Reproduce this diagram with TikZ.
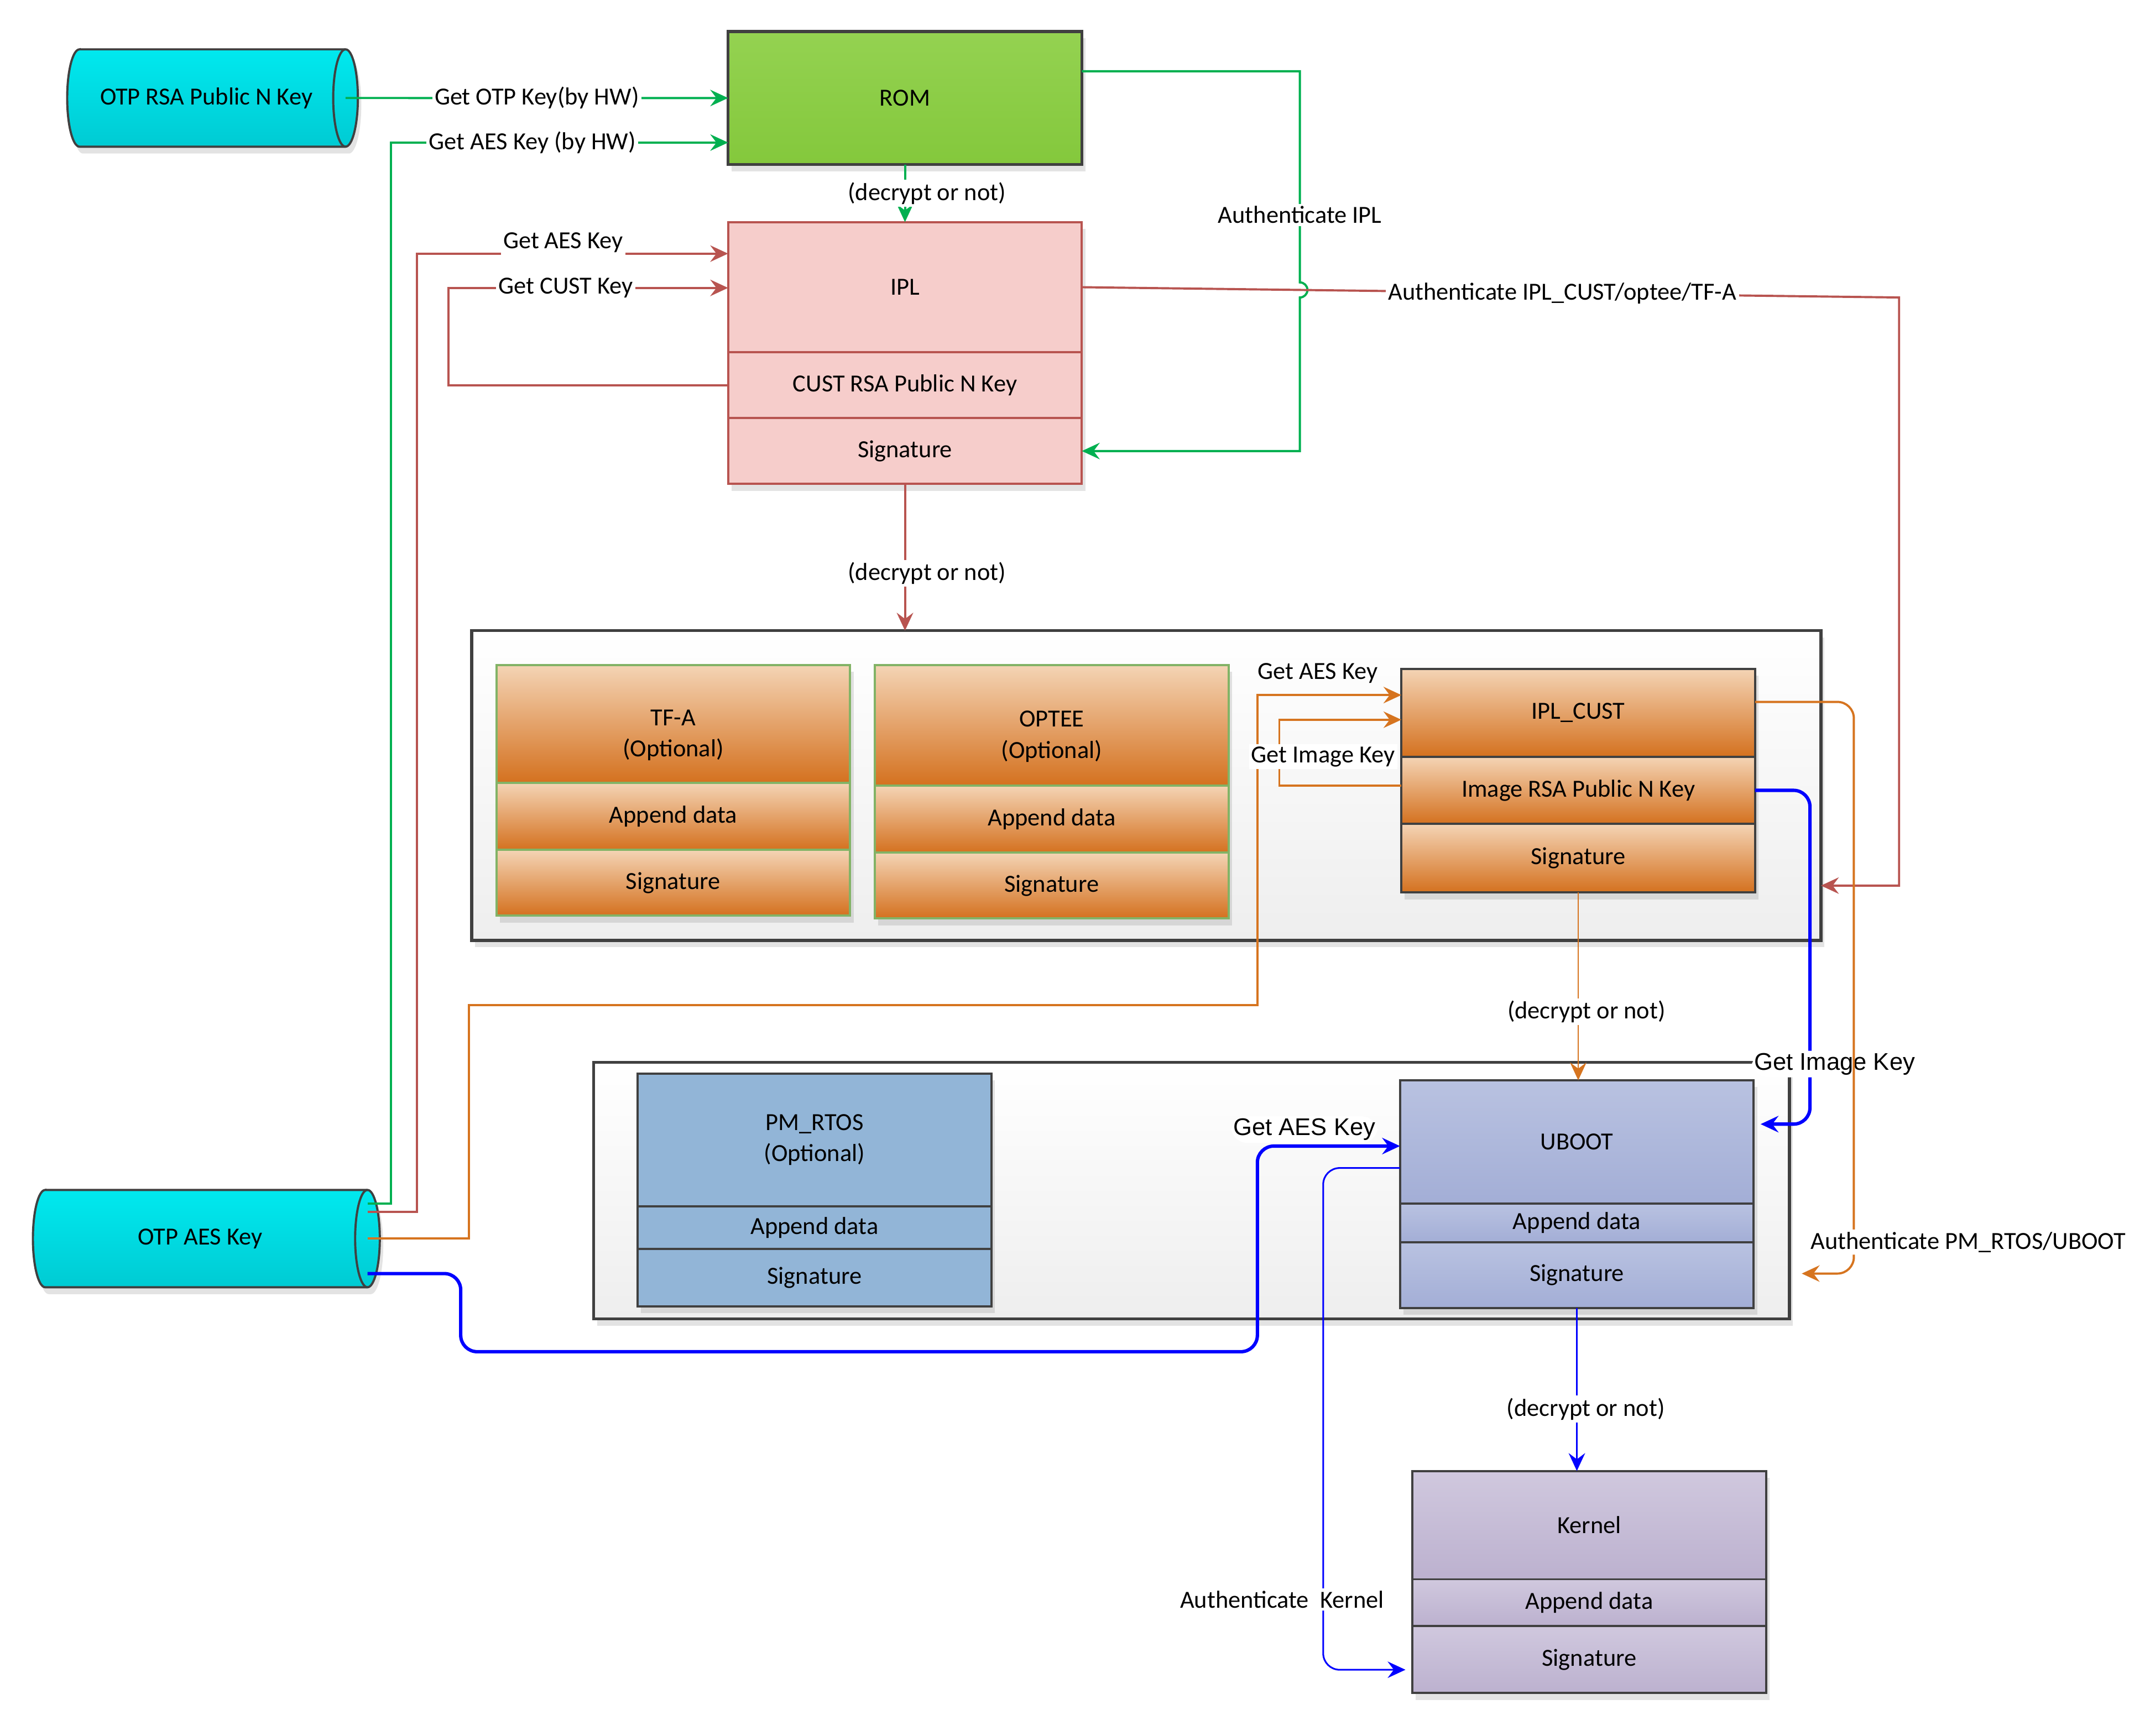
\documentclass[tikz,border=0pt]{standalone}
\usepackage{fontspec}
\setmainfont{Carlito}
\newfontfamily\arialfont{Liberation Sans}
\usetikzlibrary{arrows.meta,shadows}

\definecolor{boxline}{HTML}{404040}
\definecolor{gcol}{HTML}{00B050}
\definecolor{rcol}{HTML}{B85450}
\definecolor{ocol}{HTML}{D6741F}
\definecolor{bcol}{HTML}{0000FF}
\definecolor{cyantop}{HTML}{00E9EF}
\definecolor{cyanbot}{HTML}{00CBD3}
\definecolor{romtop}{HTML}{94D251}
\definecolor{rombot}{HTML}{84C83C}
\definecolor{iplfill}{HTML}{F6CDCB}
\definecolor{orgtop}{HTML}{F4D4B5}
\definecolor{orgbot}{HTML}{D4711F}
\definecolor{tfaline}{HTML}{82B366}
\definecolor{rtosfill}{HTML}{92B5D7}
\definecolor{uboottop}{HTML}{B9C2E1}
\definecolor{ubootbot}{HTML}{A3AED6}
\definecolor{kertop}{HTML}{D0C8DE}
\definecolor{kerbot}{HTML}{BCB1CF}
\definecolor{contbot}{HTML}{EEEEEE}

\begin{document}
\begin{tikzpicture}[x=0.2mm, y=-0.2mm,
    every node/.style={font=\fontsize{10.2}{13}\selectfont},
    >={Stealth[length=2.6mm, width=2.4mm, inset=0.9mm]},
    soft/.style={drop shadow={shadow xshift=0.5mm, shadow yshift=-1mm, opacity=0.22}},
    part/.style={draw=boxline, line width=0.9pt, minimum width=51.6mm, inner sep=0pt,
      outer sep=0pt, anchor=north west, align=center, soft},
    orgpart/.style={part, top color=orgtop, bottom color=orgbot},
    tfapart/.style={orgpart, draw=tfaline},
    iplpart/.style={part, draw=rcol, fill=iplfill},
    rtospart/.style={part, fill=rtosfill},
    ubootpart/.style={part, top color=uboottop, bottom color=ubootbot},
    kernelpart/.style={part, top color=kertop, bottom color=kerbot},
    group/.style={draw=boxline, line width=1.2pt, top color=white, bottom color=contbot,
      inner sep=0pt, outer sep=0pt, anchor=north west, soft},
    otpbody/.style={draw=boxline, line width=0.9pt, top color=cyantop, bottom color=cyanbot, soft},
    otpcap/.style={draw=boxline, line width=0.9pt},
    otpkey/.style={minimum height=14.2mm, inner sep=0pt, outer sep=0pt},
    lbl/.style={fill=white, inner sep=1pt},
    alabel/.style={lbl, font=\arialfont\fontsize{10}{12}\selectfont},
    gline/.style={draw=gcol, line width=0.9pt},
    rline/.style={draw=rcol, line width=0.9pt},
    oline/.style={draw=ocol, line width=0.9pt},
    othin/.style={draw=ocol, line width=0.6pt},
    bthick/.style={draw=bcol, line width=1.4pt},
    bthin/.style={draw=bcol, line width=0.7pt}]
    \fill[white] (0,0) rectangle (1568,1266);
    \useasboundingbox (0,0) rectangle (1568,1266);

    % OTP keys
    \path[otpbody] (58,36) -- (252,36) arc[start angle=90, end angle=-90, x radius=1.8mm, y radius=7.1mm]
        -- (58,107) arc[start angle=270, end angle=90, x radius=1.8mm, y radius=7.1mm] -- cycle;
    \draw[otpcap] (252,36) arc[start angle=90, end angle=270, x radius=1.8mm, y radius=7.1mm];
    \node[otpkey, minimum width=40.6mm] (otprsa) at (150.5,71.5) {OTP RSA Public N Key};
    \path[otpbody] (33,868) -- (268,868) arc[start angle=90, end angle=-90, x radius=1.8mm, y radius=7.1mm]
        -- (33,939) arc[start angle=270, end angle=90, x radius=1.8mm, y radius=7.1mm] -- cycle;
    \draw[otpcap] (268,868) arc[start angle=90, end angle=270, x radius=1.8mm, y radius=7.1mm];
    \node[otpkey, minimum width=48.8mm] (otpaes) at (146,903.5) {OTP AES Key};

    % ROM and IPL
    \node[part, line width=1.2pt, top color=romtop, bottom color=rombot, minimum height=19.4mm] (rom) at (531,23) {ROM};
    \node[iplpart, minimum height=19mm] (ipl) at (531,162) {IPL};
    \node[iplpart, minimum height=9.6mm] (custkey) at (ipl.south west) {CUST RSA Public N Key};
    \node[iplpart, minimum height=9.6mm] (iplsig) at (custkey.south west) {Signature};

    % TF-A, OPTEE, IPL_CUST
    \node[group, minimum width=196.8mm, minimum height=45.2mm] (midbox) at (344,460) {};
    \node[tfapart, minimum height=17.2mm] (tfa) at (362,485) {\rule{0pt}{16pt}TF-A\\(Optional)};
    \node[tfapart, minimum height=9.8mm] (tfaapp) at (tfa.south west) {Append data};
    \node[tfapart, minimum height=9.6mm] (tfasig) at (tfaapp.south west) {Signature};
    \node[tfapart, minimum height=17.6mm] (optee) at (638,485) {\rule{0pt}{16pt}OPTEE\\(Optional)};
    \node[tfapart, minimum height=9.8mm] (opteeapp) at (optee.south west) {Append data};
    \node[tfapart, minimum height=9.6mm] (opteesig) at (opteeapp.south west) {Signature};
    \node[orgpart, minimum height=12.8mm] (iplcust) at (1022,488) {IPL\_CUST};
    \node[orgpart, minimum height=9.8mm] (imgkey) at (iplcust.south west) {Image RSA Public N Key};
    \node[orgpart, minimum height=10mm] (custsig) at (imgkey.south west) {Signature};

    % PM_RTOS, UBOOT
    \node[group, minimum width=174.4mm, minimum height=37.4mm] (lowbox) at (433,775) {};
    \node[rtospart, minimum height=19.4mm] (pmrtos) at (465,783) {PM\_RTOS\\(Optional)};
    \node[rtospart, minimum height=6.2mm] (rtosapp) at (pmrtos.south west) {Append data};
    \node[rtospart, minimum height=8.4mm] (rtossig) at (rtosapp.south west) {Signature};
    \node[ubootpart, minimum height=18mm] (uboot) at (1021,788) {UBOOT};
    \node[ubootpart, minimum height=5.6mm] (ubootapp) at (uboot.south west) {Append data};
    \node[ubootpart, minimum height=9.6mm] (ubootsig) at (ubootapp.south west) {Signature};

    % Kernel
    \node[kernelpart, minimum height=15.8mm] (kernel) at (1030,1073) {Kernel};
    \node[kernelpart, minimum height=6.8mm] (kerapp) at (kernel.south west) {Append data};
    \node[kernelpart, minimum height=9.8mm] (kersig) at (kerapp.south west) {Signature};

    % green: ROM
    \draw[gline, ->] (otprsa.east) -- node[lbl] {Get OTP Key(by HW)} (rom.west);
    \draw[gline, ->] (otpaes.east |- 0,878) -| (285,104)
        -- node[lbl, pos=0.42] {Get AES Key (by HW)} (rom.west |- 0,104);
    \draw[gline, ->] (rom.south) -- node[lbl, xshift=3.2mm] {(decrypt or not)} (ipl.north);
    \draw[gline, ->] (rom.east |- 0,52) -| node[lbl, pos=0.84] {Authenticate IPL} (948,206)
        arc[start angle=90, end angle=-90, radius=1.1mm] |- (iplsig.east);

    % red: IPL
    \draw[rline, ->] (ipl.east) -- node[lbl, pos=0.588] {Authenticate IPL\_CUST/optee/TF-A} (1385,217)
        |- (midbox.east |- 0,646);
    \draw[rline, ->] (iplsig.south) -- node[lbl, pos=0.61, xshift=3.2mm] {(decrypt or not)} (iplsig.south |- midbox.north);
    \draw[rline, ->] (otpaes.east |- 0,884) -| (304,185)
        -- node[lbl, pos=0.47, yshift=1.6mm] {Get AES Key} (ipl.west |- 0,185);
    \draw[rline, ->] (custkey.west) -| (327,210) -- node[lbl, pos=0.42] {Get CUST Key} (ipl.west |- 0,210);

    % orange: IPL_CUST
    \draw[oline, ->] (otpaes.east) -| (342,733) -| (917,507)
        -- node[pos=0.42, yshift=3.2mm] {Get AES Key} (iplcust.west |- 0,507);
    \draw[oline, ->] (imgkey.west |- 0,573) -| node[lbl, pos=0.72, xshift=6.4mm] {Get Image Key} (933,525)
        -- (iplcust.west |- 0,525);
    \draw[othin, ->] (custsig.south) -- node[lbl, pos=0.635, xshift=1.2mm] {(decrypt or not)} (custsig.south |- uboot.north);

    % blue: UBOOT
    \draw[bthick, rounded corners=2.4mm, ->, shorten >=1mm] (imgkey.east) -| node[alabel, pos=0.91, xshift=3.6mm] {Get Image Key} (1320,820)
        -- (uboot.east |- 0,820);
    \draw[bthick, rounded corners=2.4mm, ->] (otpaes.east |- 0,929) -- (336,929) |- (917,986)
        |- node[alabel, pos=0.665, yshift=2.4mm] {Get AES Key} (uboot.west |- 0,836);
    \draw[bthin, rounded corners=2.4mm, ->, shorten >=1mm] (uboot.west |- 0,852) -| node[lbl, pos=0.93, xshift=-6mm] {Authenticate\ \ Kernel} (965,1218)
        -- (kersig.west |- 0,1218);
    \draw[bthin, ->] (ubootsig.south) -- node[lbl, pos=0.62, xshift=1.3mm] {(decrypt or not)} (ubootsig.south |- kernel.north);

    % orange: PM_RTOS/UBOOT
    \draw[oline, rounded corners=2.4mm, ->, shorten >=1.8mm] (iplcust.east |- 0,512) -- (1352,512)
        -- node[lbl, pos=0.945, anchor=west, xshift=-6.8mm] {Authenticate PM\_RTOS/UBOOT} (1352,929)
        -- (lowbox.east |- 0,929);
\end{tikzpicture}
\end{document}
